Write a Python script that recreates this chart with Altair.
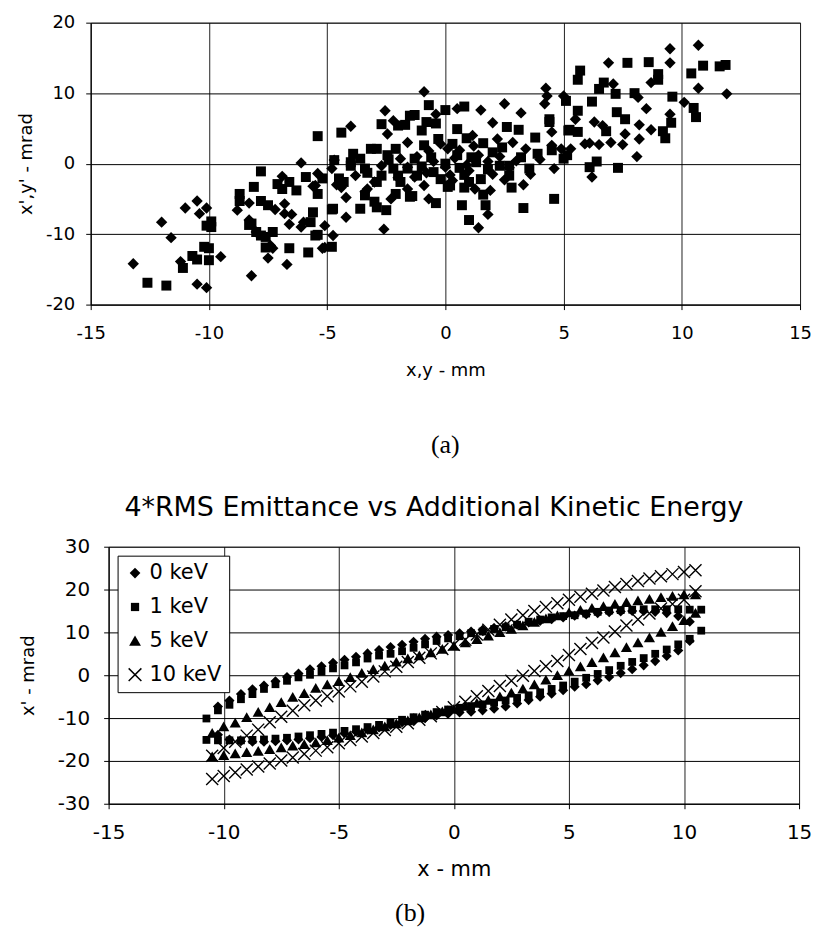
import altair as alt
import pandas as pd

# ---------------- Panel (a): phase-space scatter ----------------
a_diamond_x = [-13.2, -12.0, -11.6, -11.0, -10.5, -10.4, -10.1, -11.2, -10.5, -10.1,
               -9.5, -8.8, -8.3, -8.2, -7.5, -7.2, -6.8, -6.7, -6.5, -6.1,
               -6.1, -5.6, -5.1, -6.9, -8.3, -8.0, -7.4, -6.8, -6.6, -6.0,
               -5.5, -5.2, -5.4, -7.3, -5.1,
               -4.8, -4.6, -4.75, -4.0, -4.2, -4.4, -4.2, -2.7, -2.6, -1.6,
               -2.45, -2.2, -2.55, -1.9, -1.6, -1.3, -3.4, -3.8, -3.0, -2.3,
               -4.7, -3.3,
               -0.9, 1.5, 2.5, 2.0, 3.2, 4.25, 4.2, 1.15, 1.25, 1.9,
               1.8, 1.4, -0.9, -0.7, 0.5, 4.6, 4.0, 3.4, 2.85, 2.2,
               0.1, -0.4, -1.2, -0.5, 0.0, 0.4, 0.9, 1.4, 1.8, 2.3,
               2.7, 3.0, -0.8, 0.2, 1.0, -1.6, -2.0, 0.6, -0.2, 1.2,
               -0.7, 0.3, 2.0, 3.6, 3.3, 2.5, 4.3,
               10.7, 9.5, 9.5, 6.9, 10.7, 11.9, 10.1, 9.5, 8.5, 8.2,
               8.7, 8.2, 8.1, 7.6, 7.5, 7.0, 6.5, 6.1, 6.2, 7.1,
               8.7, 6.65, 6.3, 5.5, 5.0, 4.5, 8.15, 4.9, 5.3, 5.9, 4.5]
a_diamond_y = [-14.2, -8.3, -10.5, -6.3, -5.3, -7.1, -6.3, -13.9, -17.1, -17.6,
               -13.2, -6.6, -5.6, -15.9, -13.4, -6.5, -5.7, -14.3, -7.2, 0.1,
               -9.0, -3.2, -11.9, -1.8, -8.0, -9.7, -11.6, -7.1, -8.6, -8.3,
               -3.1, -12.0, -1.4, -12.0, -8.8,
               -0.7, -3.0, -10.2, 5.3, -7.6, -3.4, -4.8, -0.3, -9.3, 3.0,
               4.2, 6.1, 7.5, 0.7, -3.6, -1.9, -4.0, -1.7, -2.6, -5.0,
               0.5, -3.6,
               10.2, 7.6, 8.5, 5.8, 7.2, 10.7, 8.5, 4.0, -3.6, -3.8,
               -7.2, -9.1, -3.1, -5.0, 7.8, -0.7, 0.6, 2.1, 3.0, 3.5,
               2.1, 7.0, 1.0, 0.3, -0.5, 0.8, -0.2, 1.2, 0.3, 1.0,
               -0.6, 0.4, -1.3, -1.6, -1.0, -0.5, -2.0, 1.9, 2.8, 2.5,
               1.8, -2.4, -1.5, -1.5, -3.0, -2.3, 9.6,
               16.8, 16.3, 14.3, 14.3, 10.7, 9.9, 8.7, 7.0, 7.8, 5.5,
               4.8, 3.5, 1.0, 4.2, 2.7, 3.0, 2.7, 2.9, -1.9, 11.3,
               11.5, 5.4, 5.9, 6.3, 9.6, 2.6, 9.4, 2.1, 2.1, 2.8, 4.5]

a_square_x = [-12.6, -11.8, -10.2, -10.0, -10.7, -10.5, -11.1, -9.9, -9.9, -10.1,
              -8.7, -8.7, -8.1, -7.8, -7.8, -7.5, -8.3, -8.0, -7.6, -7.3,
              -7.6, -6.6, -5.8, -7.1, -6.6, -6.3, -5.9, -5.4, -5.4, -5.6,
              -5.7, -5.4, -10.0, -4.75, -4.8, -5.5, -6.9, -8.2, -7.8,
              -4.4, -4.3, -4.0, -3.6, -3.15, -2.7, -3.0, -3.6, -2.5, -1.5,
              -2.1, -1.5, -2.0, -2.7, -1.6, -3.4, -2.45, -1.3, -2.9, -3.9,
              -4.7, -4.8, -5.2, -4.0, -2.2, -2.1, -2.9, -3.4, -1.9, -2.9,
              -4.5, -2.0,
              -0.7, 0.0, 0.8, -1.3, -0.8, -1.7, -1.0, -0.4, 0.5, 2.6,
              3.1, 3.8, 4.4, 3.3, 2.8, 1.6, 1.7, 1.0, 0.7, 0.2,
              0.8, -0.4, -1.4, -0.5, 0.5, 1.3, 2.0, 2.7, 3.55, 2.7,
              1.0, -1.2, -0.9, -0.3, 0.3, 0.9, 1.6, 2.4, -0.6, 0.0,
              0.6, 1.1, 1.8, 2.3, -1.0, -0.2, 0.8, 1.5, 3.9, 3.2,
              -2.4, -3.3, 0.1, 4.6, 5.2, 5.0,
              7.7, 8.6, 9.0, 9.0, 10.4, 10.9, 11.85, 11.6, 5.7, 5.6,
              6.7, 6.5, 7.2, 8.0, 9.6, 10.5, 10.6, 9.55, 9.2, 9.3,
              7.6, 7.25, 6.8, 6.2, 5.6, 5.6, 5.25, 5.1, 4.4, 6.4,
              6.1, 7.3, 5.15, 4.5]
a_square_y = [-16.9, -17.3, -11.8, -13.7, -13.1, -13.6, -14.8, -8.2, -9.0, -8.8,
              -4.3, -5.3, -3.3, -1.1, -5.3, -5.9, -8.7, -9.7, -10.4, -9.7,
              -11.9, -12.0, -12.6, -2.9, -2.6, -3.8, -1.9, 3.9, -4.3, -6.9,
              -8.3, -10.1, -12.0, -6.4, -11.8, -10.2, -3.6, -8.5, -10.2,
              4.4, -2.6, 0.2, 0.7, 2.1, 5.6, -5.4, -6.4, -6.6, 6.8,
              2.1, -4.7, -1.7, -1.7, -0.7, -0.7, 1.2, 0.7, 2.1, 1.4,
              0.5, -6.5, -2.1, -0.3, -0.7, -4.3, -6.2, -4.5, -2.6, -2.6,
              -2.1, 5.4,
              8.3, 7.6, 8.1, 6.9, 5.9, 5.5, 4.7, 5.7, 4.9, 5.2,
              4.8, 3.7, 5.9, -6.3, -3.4, -4.4, -5.9, -8.0, -5.9, -3.1,
              -3.4, -5.6, -4.6, -1.2, 1.2, 0.2, 1.6, -0.3, -0.7, -1.7,
              -2.6, -1.7, 2.6, 3.5, 2.8, 3.6, 2.9, 2.3, 0.9, 0.0,
              -0.6, 0.9, -0.8, -0.3, -0.4, -2.2, -1.6, -2.2, 1.4, 0.9,
              0.6, -1.3, -3.3, -5.0, 4.7, 0.7,
              14.3, 14.4, 12.7, 11.9, 12.8, 13.9, 14.0, 13.8, 13.2, 11.9,
              11.5, 10.6, 9.9, 10.0, 9.5, 7.9, 6.6, 5.8, 4.6, 3.6,
              6.3, 7.3, 4.6, 8.8, 7.5, 4.5, 4.8, 8.9, 6.3, 0.3,
              -0.5, -0.6, 1.2, 1.9]

# ---------------- Panel (b): 4*RMS emittance ellipses ----------------
series_labels = ["0 keV", "1 keV", "5 keV", "10 keV"]

x_0kev = [-10.25, -9.75, -9.25, -8.75, -8.25, -7.75, -7.25, -6.75, -6.25, -5.75,
          -5.25, -4.75, -4.25, -3.75, -3.25, -2.75, -2.25, -1.75, -1.25, -0.75,
          -0.25, 0.25, 0.75, 1.25, 1.75, 2.25, 2.75, 3.25, 3.75, 4.25,
          4.75, 5.25, 5.75, 6.25, 6.75, 7.25, 7.75, 8.25, 8.75, 9.25,
          9.75, 10.25]
upper_0kev = [-7.3, -5.9, -4.4, -3.3, -2.4, -1.4, -0.4, 0.4, 1.4, 2.1,
              2.9, 3.6, 4.3, 5.1, 5.9, 6.6, 7.1, 7.8, 8.5, 9.0,
              9.4, 9.8, 10.2, 10.6, 11.0, 11.4, 11.8, 12.3, 12.7, 13.1,
              13.5, 13.9, 14.2, 14.5, 14.7, 14.9, 15.0, 15.0, 14.8, 14.5,
              13.8, 12.5]
lower_0kev = [-13.9, -15.0, -15.4, -15.5, -15.5, -15.4, -15.2, -15.0, -14.7, -14.4,
              -14.0, -13.6, -13.2, -12.7, -12.2, -11.6, -11.0, -10.5, -10.0, -9.4,
              -9.0, -8.7, -8.5, -8.2, -7.8, -7.3, -6.6, -5.8, -5.0, -4.3,
              -3.5, -2.7, -2.1, -1.2, -0.4, 0.5, 1.4, 2.3, 3.3, 4.5,
              5.8, 8.0]

x_1kev = [-10.75, -10.25, -9.75, -9.25, -8.75, -8.25, -7.75, -7.25, -6.75, -6.25,
          -5.75, -5.25, -4.75, -4.25, -3.75, -3.25, -2.75, -2.25, -1.75, -1.25,
          -0.75, -0.25, 0.25, 0.75, 1.25, 1.75, 2.25, 2.75, 3.25, 3.75,
          4.25, 4.75, 5.25, 5.75, 6.25, 6.75, 7.25, 7.75, 8.25, 8.75,
          9.25, 9.75, 10.25, 10.75]
upper_1kev = [-10.1, -8.2, -6.9, -5.6, -4.4, -3.2, -2.1, -1.3, -0.5, 0.1,
              0.8, 1.6, 2.3, 3.0, 3.9, 4.6, 5.0, 5.6, 6.4, 7.2,
              8.0, 8.6, 9.1, 9.8, 10.2, 10.8, 11.2, 11.8, 12.5, 13.0,
              13.5, 13.8, 14.0, 14.4, 14.8, 15.1, 15.2, 15.3, 15.4, 15.4,
              15.4, 15.4, 15.3, 15.3]
lower_1kev = [-15.1, -15.2, -15.2, -15.2, -15.1, -15.0, -14.8, -14.6, -14.3, -14.0,
              -13.7, -13.4, -13.0, -12.6, -12.1, -11.6, -11.0, -10.4, -9.8, -9.2,
              -8.6, -8.0, -7.6, -7.2, -6.8, -6.4, -5.9, -5.3, -4.7, -4.0,
              -3.2, -2.4, -1.5, -0.6, 0.3, 1.2, 2.2, 3.1, 4.0, 5.0,
              6.0, 7.2, 8.5, 10.4]

x_5_10kev = [-10.5, -10.0, -9.5, -9.0, -8.5, -8.0, -7.5, -7.0, -6.5, -6.0,
             -5.5, -5.0, -4.5, -4.0, -3.5, -3.0, -2.5, -2.0, -1.5, -1.0,
             -0.5, 0.0, 0.5, 1.0, 1.5, 2.0, 2.5, 3.0, 3.5, 4.0,
             4.5, 5.0, 5.5, 6.0, 6.5, 7.0, 7.5, 8.0, 8.5, 9.0,
             9.5, 10.0, 10.5]
upper_5kev = [-13.5, -12.0, -11.1, -9.8, -8.6, -7.5, -6.3, -5.1, -4.2, -3.0,
              -2.2, -1.4, -0.5, 0.5, 1.4, 2.2, 3.1, 3.9, 4.6, 5.3,
              6.1, 6.8, 7.6, 8.4, 9.2, 10.0, 10.8, 11.6, 12.4, 13.2,
              13.9, 14.6, 15.2, 15.7, 16.1, 16.6, 17.0, 17.4, 17.8, 18.2,
              18.5, 18.8, 18.8]
lower_5kev = [-19.0, -18.7, -18.3, -18.0, -17.7, -17.3, -16.9, -16.5, -16.1, -15.7,
              -15.2, -14.6, -14.0, -13.4, -12.7, -12.0, -11.3, -10.6, -9.9, -9.2,
              -8.5, -7.9, -7.2, -6.5, -5.8, -5.0, -4.1, -3.2, -2.2, -1.1,
              0.0, 1.0, 2.0, 3.0, 4.1, 5.3, 6.5, 7.6, 8.8, 10.1,
              11.4, 12.8, 14.5]
upper_10kev = [-18.8, -17.0, -15.5, -14.1, -12.7, -11.0, -9.7, -8.3, -7.0, -5.9,
               -4.9, -3.8, -2.6, -1.5, -0.3, 0.9, 2.0, 3.1, 4.1, 5.1,
               6.1, 7.1, 8.3, 9.5, 10.6, 11.8, 13.0, 14.0, 15.0, 15.9,
               16.8, 17.6, 18.3, 19.0, 19.8, 20.6, 21.3, 22.0, 22.6, 23.1,
               23.6, 24.1, 24.5]
lower_10kev = [-24.2, -23.5, -22.7, -22.0, -21.3, -20.6, -19.9, -19.2, -18.4, -17.6,
               -16.8, -15.9, -15.1, -14.3, -13.5, -12.8, -12.0, -11.2, -10.4, -9.6,
               -8.6, -7.5, -6.2, -4.9, -3.7, -2.5, -1.3, -0.1, 1.0, 2.1,
               3.3, 4.7, 6.1, 7.5, 8.8, 10.2, 11.6, 13.0, 14.4, 15.6,
               16.6, 17.6, 19.6]

# Marker outlines for panel (b), drawn in the [-1, 1] symbol box
DIAMOND_PATH = "M0,-0.78L0.78,0L0,0.78L-0.78,0Z"
SQUARE_PATH = "M-0.6,-0.6L0.6,-0.6L0.6,0.6L-0.6,0.6Z"
TRIANGLE_PATH = "M0,-0.78L0.86,0.72L-0.86,0.72Z"
X_PATH = ("M-1,-0.85L-0.85,-1L1,0.85L0.85,1Z "
          "M-0.85,1L-1,0.85L0.85,-1L1,-0.85Z")

# ---------------- build tables ----------------
df_a = pd.DataFrame({
    "x": a_diamond_x + a_square_x,
    "y": a_diamond_y + a_square_y,
    "marker": ["diamond"] * len(a_diamond_x) + ["square"] * len(a_square_x),
})

b_parts = [
    (series_labels[0], x_0kev, upper_0kev, lower_0kev),
    (series_labels[1], x_1kev, upper_1kev, lower_1kev),
    (series_labels[2], x_5_10kev, upper_5kev, lower_5kev),
    (series_labels[3], x_5_10kev, upper_10kev, lower_10kev),
]
rows = []
for order, (lab, xs, up, lo) in enumerate(b_parts):
    for xv, yv in zip(xs, up):
        rows.append({"x": xv, "y": yv, "series": lab, "ord": order})
    for xv, yv in zip(xs, lo):
        rows.append({"x": xv, "y": yv, "series": lab, "ord": order})
df_b = pd.DataFrame(rows)

FONT = "DejaVu Sans"
LABEL_EXPR = "datum.value + ''"


def axis(title, values, lsize, tsize, lpad, tpad, grid_color):
    return alt.Axis(values=values, title=title, labelExpr=LABEL_EXPR,
                    labelFontSize=lsize, titleFontSize=tsize, titleFontWeight="normal",
                    labelPadding=lpad, titlePadding=tpad, tickSize=5,
                    labelFlush=False, labelOverlap=False,
                    gridColor=grid_color, gridOpacity=1, domainColor="#000",
                    tickColor="#000", labelColor="#000", titleColor="#000")


def spacer(w):
    return alt.Chart(pd.DataFrame({"s": [0]})).mark_point(opacity=0).encode(
        x=alt.X("s:Q", axis=None), y=alt.Y("s:Q", axis=None)
    ).properties(width=w, height=1, view=alt.ViewBackground(strokeOpacity=0))


# ---------------- panel (a) ----------------
panel_a = alt.Chart(df_a).mark_point(filled=True, opacity=1).encode(
    x=alt.X("x:Q", scale=alt.Scale(domain=[-15, 15], nice=False),
            axis=axis("x,y - mm", [-15, -10, -5, 0, 5, 10, 15], 18, 18, 15, 19, "#222")),
    y=alt.Y("y:Q", scale=alt.Scale(domain=[-20, 20], nice=False),
            axis=axis("x',y' - mrad", [-20, -10, 0, 10, 20], 18, 18, 11, 10, "#000")),
    shape=alt.Shape("marker:N", scale=alt.Scale(domain=["diamond", "square"],
                                                range=["diamond", "square"]), legend=None),
    size=alt.Size("marker:N", scale=alt.Scale(domain=["diamond", "square"],
                                              range=[130, 100]), legend=None),
    color=alt.value("black"),
).properties(
    width=712, height=283,
    title=alt.TitleParams("(a)", orient="bottom", anchor="middle", font="Liberation Serif",
                          fontSize=26, fontWeight="normal", offset=53, color="black"),
)

# ---------------- panel (b) ----------------
panel_b = alt.Chart(df_b).mark_point(filled=True, opacity=1, size=170).encode(
    x=alt.X("x:Q", scale=alt.Scale(domain=[-15, 15], nice=False),
            axis=axis("x - mm", [-15, -10, -5, 0, 5, 10, 15], 20, 21, 14, 16, "#222")),
    y=alt.Y("y:Q", scale=alt.Scale(domain=[-30, 30], nice=False),
            axis=axis("x' - mrad", [-30, -20, -10, 0, 10, 20, 30], 20, 18, 14, 20, "#000")),
    shape=alt.Shape("series:N",
                    scale=alt.Scale(domain=series_labels,
                                    range=[DIAMOND_PATH, SQUARE_PATH, TRIANGLE_PATH, X_PATH]),
                    legend=alt.Legend(orient="top-left", offset=9, title=None, padding=7,
                                      strokeColor="black", fillColor="white",
                                      labelFont=FONT, labelFontSize=21, labelColor="black",
                                      symbolSize=190, symbolFillColor="black",
                                      symbolStrokeWidth=0, rowPadding=12, labelOffset=4)),
    order=alt.Order("ord:Q"),
    color=alt.value("black"),
).properties(
    width=693, height=258,
    title=alt.TitleParams("4*RMS Emittance vs Additional Kinetic Energy", font=FONT,
                          fontSize=27, fontWeight="normal", offset=15, anchor="middle",
                          frame="group", dx=-20, color="black"),
)

row_a = alt.hconcat(spacer(9), panel_a, spacing=0).resolve_scale(
    shape="independent", size="independent").resolve_legend(
    shape="independent", size="independent")
row_b = alt.hconcat(spacer(10), panel_b, spacing=0).resolve_scale(
    shape="independent").resolve_legend(shape="independent")

chart = alt.vconcat(
    row_a, row_b, spacing=34,
    title=alt.TitleParams("(b)", orient="bottom", anchor="middle", font="Liberation Serif",
                          fontSize=26, fontWeight="normal", offset=20, color="black"),
).resolve_scale(
    shape="independent", size="independent"
).resolve_legend(
    shape="independent", size="independent"
).properties(
    padding={"left": 0, "top": 3, "right": 0, "bottom": 0},
    background="white",
).configure(font=FONT).configure_view(stroke="#777", strokeWidth=1)

chart.save("out.html", embed_options={"renderer": "svg", "actions": False})
